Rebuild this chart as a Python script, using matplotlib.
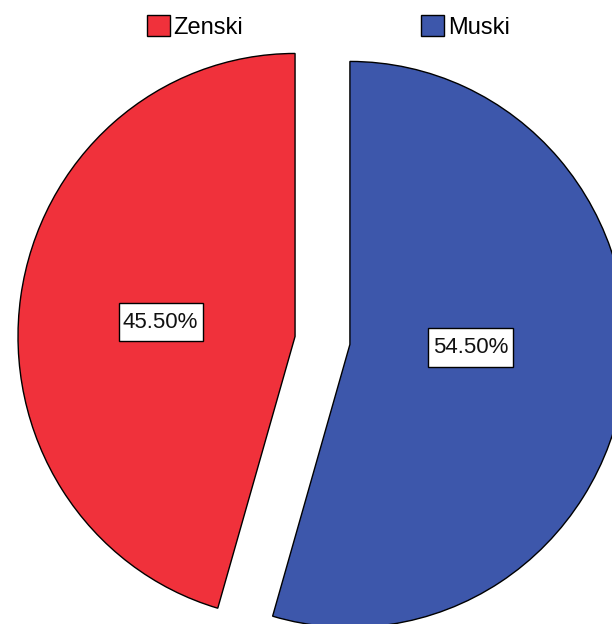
import matplotlib
matplotlib.use("Agg")
import matplotlib.pyplot as plt

# data (pie goes clockwise from 12 o'clock: Muski first, then Zenski)
labels = ["Muski", "Zenski"]
shares = [54.5, 45.5]
colors = ["#3D57AB", "#F0313B"]
legend_order = ["Zenski", "Muski"]

# small nudges of the percent boxes (data units), to sit like the original
label_nudge = {"Muski": (-0.05, 0.057), "Zenski": (0.0, -0.018)}

plt.rcParams["font.family"] = ["Liberation Sans", "DejaVu Sans"]

fig = plt.figure(figsize=(6.12, 6.24), dpi=100)
ax = fig.add_axes([0, 0, 1, 1])

wedges, texts, autotexts = ax.pie(
    shares, colors=colors, startangle=90, counterclock=False,
    explode=[0.1, 0.1], radius=1.0,
    autopct="%.2f%%", pctdistance=0.49,
    wedgeprops=dict(edgecolor="black", linewidth=1.0),
    textprops=dict(fontsize=16, color="#111111"),
)
for name, t in zip(labels, autotexts):
    x, y = t.get_position()
    dx, dy = label_nudge[name]
    t.set_position((x + dx, y + dy))
    t.set_bbox(dict(boxstyle="square,pad=0.2", facecolor="white",
                    edgecolor="black", linewidth=1.0, mutation_aspect=2.0))

# original is slightly taller than wide and clipped on the right
ax.set_xlim(-1.164, 1.045)
ax.set_ylim(-1.002, 1.203)
ax.set_aspect("auto")
ax.axis("off")

handles = [wedges[labels.index(n)] for n in legend_order]
fig.legend(handles, legend_order, loc="center", ncol=2,
           bbox_to_anchor=(0.536, 0.957), frameon=False, fontsize=17,
           handlelength=1.0, handleheight=1.0, handletextpad=0.15,
           columnspacing=7.5, borderpad=0)

fig.savefig("out.png", dpi=100)
